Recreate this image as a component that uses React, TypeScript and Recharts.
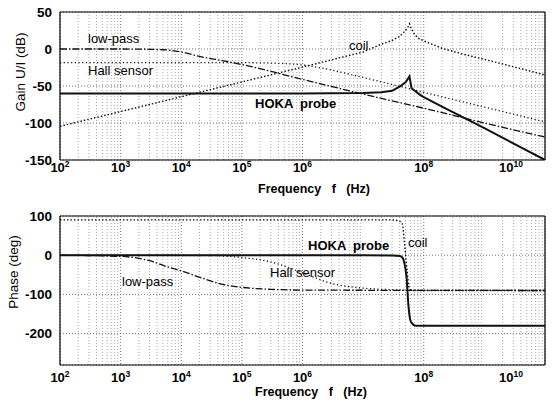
import { LineChart, Line, XAxis, YAxis, CartesianGrid, ReferenceLine } from "recharts";

const decades = [1e2, 1e3, 1e4, 1e5, 1e6, 1e7, 1e8, 1e9, 1e10];
const minorGrid = decades.slice(0, -1).flatMap((d) => [2, 3, 4, 5, 6, 7, 8, 9].map((m) => m * d));
const gainTicks = [-150, -100, -50, 0, 50];
const phaseTicks = [-200, -100, 0, 100];

// gain U/I in dB
const hokaGainF = [1e2, 1e6, 1e7, 2e7, 3e7, 4e7, 5e7, 5.5e7, 5.8e7, 6.3e7, 7e7, 8.7e7, 1e8, 2e8, 1e9, 1e10];
const hokaGain = [-60, -60, -59.5, -58.5, -56.5, -51, -45, -40, -37, -53, -56, -62, -65, -78, -107, -150];
const coilGainF = [1e2, 1e3, 1e4, 1e5, 1e6, 1e7, 2e7, 3e7, 4e7, 5e7, 5.5e7, 5.8e7, 6.2e7, 7e7, 8e7, 1e8, 2e8, 4e8, 1e9, 1e10];
const coilGain = [-104.5, -84.5, -64.5, -44.5, -24.5, -4, 6.5, 11.5, 17, 25, 30, 34, 28, 20, 15, 11, 1, -6, -14, -35];
const hallGainF = [1e2, 1e5, 3e5, 1e6, 3e6, 1e7, 1e8, 1e9, 1e10];
const hallGain = [-18.5, -18.5, -19, -21.5, -28.5, -38.5, -58.5, -78.5, -98.5];
const lowGainF = [1e2, 1e3, 5e3, 1e4, 2e4, 5e4, 1e5, 1e6, 1e7, 1e8, 1e9, 1e10];
const lowGain = [0, 0, -1, -4, -10, -16, -21, -41, -61, -80, -100, -119];

// phase in degrees
const hokaPhaseF = [1e2, 1e7, 3e7, 4e7, 4.4e7, 4.8e7, 5.2e7, 5.6e7, 6e7, 6.6e7, 7.5e7, 1e8, 1e10];
const hokaPhase = [0, 0, -1, -2, -5, -20, -56, -130, -165, -176, -180, -180, -180];
const coilPhaseF = [1e2, 3e7, 3.8e7, 4.4e7, 4.8e7, 5.3e7, 5.8e7, 6.5e7, 1e10];
const coilPhase = [90, 90, 88, 81, 33, -38, -85, -90, -90];
const hallPhaseF = [1e2, 3e4, 1e5, 3e5, 1e6, 3e6, 1e7, 3e7, 1e8, 1e10];
const hallPhase = [0, -1, -6, -17, -45, -72, -84, -88, -89.5, -90];
const lowPhaseF = [1e2, 1e3, 3e3, 6e3, 1e4, 2e4, 5e4, 1e5, 3e5, 1e6, 1e10];
const lowPhase = [0, -3, -14, -30, -40, -56, -75, -82, -87, -89, -90];

const pts = (f: number[], v: number[]) => f.map((x, i) => ({ f: x, v: v[i] }));

const FONT = "'Liberation Sans', Arial, Helvetica, sans-serif";
const INK = "#111";

function PowTick(props: any) {
  const { x, y, payload, dy } = props;
  const exp = Math.round(Math.log10(payload.value));
  return (
    <text x={x} y={y + dy} textAnchor="middle" fontSize={13} fontWeight="bold" fill="#000" fontFamily={FONT}>
      10
      <tspan dy={-5} fontSize={8.5}>
        {exp}
      </tspan>
    </text>
  );
}

type Series = { data: { f: number; v: number }[]; dash?: string; width: number; curve: "linear" | "monotone" };

function Panel({ domain, ticks, series, marginTop, axisH, tickDy }: {
  domain: [number, number];
  ticks: number[];
  series: Series[];
  marginTop: number;
  axisH: number;
  tickDy: number;
}) {
  return (
    <LineChart width={555} height={200} margin={{ top: marginTop, right: 10, bottom: 0, left: 0 }}>
      <CartesianGrid stroke="#777" strokeDasharray="1 2" />
      {minorGrid.map((m) => (
        <ReferenceLine key={m} x={m} stroke="#aaa" strokeDasharray="1 2" />
      ))}
      <XAxis
        dataKey="f"
        type="number"
        scale="log"
        domain={[1e2, 1e10]}
        ticks={decades}
        allowDataOverflow
        height={axisH}
        tickLine={false}
        axisLine={{ stroke: "#000", strokeWidth: 1.2 }}
        tick={<PowTick dy={tickDy} />}
      />
      <YAxis
        type="number"
        domain={domain}
        ticks={ticks}
        allowDataOverflow
        width={60}
        tickLine={false}
        axisLine={{ stroke: "#000", strokeWidth: 1.2 }}
        tick={{ fontSize: 13.5, fontWeight: "bold", fill: "#000", fontFamily: FONT }}
      />
      <ReferenceLine y={domain[1]} stroke="#000" strokeWidth={1.2} />
      <ReferenceLine x={1e10} stroke="#000" strokeWidth={1.2} />
      {series.map((s, i) => (
        <Line
          key={i}
          data={s.data}
          dataKey="v"
          type={s.curve}
          stroke={INK}
          strokeWidth={s.width}
          strokeDasharray={s.dash}
          dot={false}
          isAnimationActive={false}
        />
      ))}
    </LineChart>
  );
}

const label = (text: string, x: number, y: number, bold = false, extra: any = {}) => (
  <div
    style={{
      position: "absolute",
      left: x,
      top: y,
      transform: "translateY(-50%)",
      fontSize: 13,
      fontWeight: bold ? "bold" : "normal",
      whiteSpace: "pre",
      color: "#000",
      lineHeight: 1,
      ...extra,
    }}
  >
    {text}
  </div>
);

const vTitle = (text: string, x: number, y: number) => (
  <div
    style={{
      position: "absolute",
      left: x,
      top: y,
      transform: "translate(-50%, -50%) rotate(-90deg)",
      fontSize: 13.5,
      whiteSpace: "nowrap",
      lineHeight: 1,
      color: "#000",
    }}
  >
    {text}
  </div>
);

export default function App() {
  const lowDash = "7 2 1.5 2";
  const gainSeries: Series[] = [
    { data: pts(lowGainF, lowGain), dash: lowDash, width: 1.3, curve: "monotone" },
    { data: pts(hallGainF, hallGain), dash: "1.2 2.5", width: 1.3, curve: "monotone" },
    { data: pts(coilGainF, coilGain), dash: "1.5 2", width: 1.4, curve: "linear" },
    { data: pts(hokaGainF, hokaGain), width: 2, curve: "linear" },
  ];
  const phaseSeries: Series[] = [
    { data: pts(lowPhaseF, lowPhase), dash: lowDash, width: 1.3, curve: "monotone" },
    { data: pts(hallPhaseF, hallPhase), dash: "1.2 2.5", width: 1.3, curve: "monotone" },
    { data: pts(coilPhaseF, coilPhase), dash: "1.5 2", width: 1.4, curve: "monotone" },
    { data: pts(hokaPhaseF, hokaPhase), width: 2, curve: "monotone" },
  ];

  return (
    <div style={{ position: "absolute", left: 0, top: 0, width: 555, height: 400, background: "#fff", fontFamily: FONT }}>
      <div style={{ position: "absolute", left: 0, top: 0 }}>
        <Panel domain={[-150, 50]} ticks={gainTicks} series={gainSeries} marginTop={12} axisH={40} tickDy={4} />
      </div>
      <div style={{ position: "absolute", left: 0, top: 200 }}>
        <Panel domain={[-280, 100]} ticks={phaseTicks} series={phaseSeries} marginTop={16} axisH={35} tickDy={9} />
      </div>

      {vTitle("Gain U/I (dB)", 21, 72)}
      {vTitle("Phase (deg)", 14, 272)}
      {label("Frequency   f   (Hz)", 258, 189, true, { fontSize: 12.5 })}
      {label("Frequency   f   (Hz)", 255, 392, true, { fontSize: 12.5 })}

      {label("low-pass", 88, 38)}
      {label("Hall sensor", 88, 70)}
      {label("coil", 349, 45)}
      {label("HOKA  probe", 255, 103, true)}

      {label("HOKA  probe", 308, 245, true)}
      {label("coil", 408, 242)}
      {label("Hall sensor", 270, 272)}
      {label("low-pass", 122, 281)}
    </div>
  );
}
